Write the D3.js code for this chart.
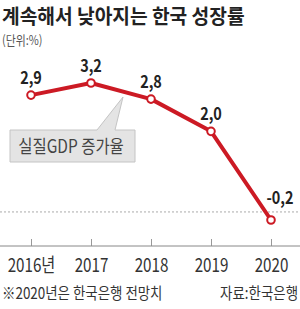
<!DOCTYPE html>
<html>
<head>
<meta charset="utf-8">
<script src="https://cdn.jsdelivr.net/npm/d3@7"></script>
<style>
  body { margin: 0; background: #fff; }
  text { font-family: "Noto Sans CJK KR", "Noto Sans", sans-serif; }
</style>
</head>
<body>
<svg id="chart" width="300" height="309"></svg>
<script>
// data
var years = ["2016", "2017", "2018", "2019", "2020"];
var yearLabels = ["2016년", "2017", "2018", "2019", "2020"];
var growth = [2.9, 3.2, 2.8, 2.0, -0.2];
var valueLabels = ["2,9", "3,2", "2,8", "2,0", "-0,2"];

var svg = d3.select("#chart");
var W = 300, H = 309;
var red = "#cc1a24";

var x = d3.scalePoint().domain(years).range([31, 271]);
var y = d3.scaleLinear().domain([-0.2, 3.2]).range([220, 83]);

// condensed text helper
function ctext(g, tx, ty, sx, str) {
  return g.append("text")
    .attr("transform", "translate(" + tx + "," + ty + ") scale(" + sx + ",1)")
    .text(str);
}

// title
ctext(svg, 2, 23.5, 0.96, "계속해서 낮아지는 한국 성장률")
  .attr("font-size", 20).attr("font-weight", "bold").attr("fill", "#222");
ctext(svg, 2, 45, 0.84, "(단위:%)")
  .attr("font-size", 13).attr("fill", "#555");

// zero line
svg.append("line")
  .attr("x1", 0).attr("x2", W)
  .attr("y1", y(0)).attr("y2", y(0))
  .attr("stroke", "#aaa").attr("stroke-width", 1)
  .attr("stroke-dasharray", "2,2");

// x axis
var axisY = 246;
var xAxis = d3.axisBottom(x).tickSize(-7).tickFormat(function (d, i) { return yearLabels[i]; });
var ax = svg.append("g").attr("transform", "translate(0," + axisY + ")").call(xAxis);
ax.select(".domain").remove();
ax.append("line").attr("x1", 0).attr("x2", W).attr("stroke", "#888").attr("stroke-width", 1);
ax.selectAll(".tick line").attr("stroke", "#999");
ax.selectAll(".tick text").remove();
ax.selectAll(".tick").each(function (d, i) {
  ctext(d3.select(this), 0, 26, 0.8, yearLabels[i])
    .attr("font-size", 19).attr("fill", "#333").attr("text-anchor", "middle");
});

// callout box
var callout = svg.append("g");
callout.append("path")
  .attr("d", "M10,130 L97,130 L123,97 L115,130 L135,130 L135,162 L10,162 Z")
  .attr("fill", "#e4e4e4").attr("stroke", "#c4c4c4").attr("stroke-width", 1);
ctext(callout, 71, 153, 0.86, "실질GDP 증가율")
  .attr("font-size", 18).attr("fill", "#444").attr("text-anchor", "middle");

// line
var line = d3.line()
  .x(function (d, i) { return x(years[i]); })
  .y(function (d) { return y(d); });
svg.append("path")
  .datum(growth)
  .attr("d", line)
  .attr("fill", "none")
  .attr("stroke", red)
  .attr("stroke-width", 4)
  .attr("stroke-linejoin", "round");

svg.selectAll("circle.pt")
  .data(growth)
  .enter().append("circle")
  .attr("class", "pt")
  .attr("cx", function (d, i) { return x(years[i]); })
  .attr("cy", function (d) { return y(d); })
  .attr("r", 3.8)
  .attr("fill", "#fff")
  .attr("stroke", red)
  .attr("stroke-width", 2);

// value labels
growth.forEach(function (v, i) {
  var last = i === growth.length - 1;
  var tx = last ? x(years[i]) + 9 : x(years[i]);
  var ty = last ? y(v) - 16 : y(v) - 11;
  ctext(svg, tx, ty, 0.85, valueLabels[i])
    .attr("font-size", 17).attr("font-weight", "bold").attr("fill", "#222")
    .attr("text-anchor", "middle");
});

// footer
ctext(svg, 2, 299, 0.84, "※2020년은 한국은행 전망치")
  .attr("font-size", 16).attr("fill", "#333");
ctext(svg, 298, 299, 0.84, "자료:한국은행")
  .attr("font-size", 16).attr("fill", "#333").attr("text-anchor", "end");
</script>
</body>
</html>
